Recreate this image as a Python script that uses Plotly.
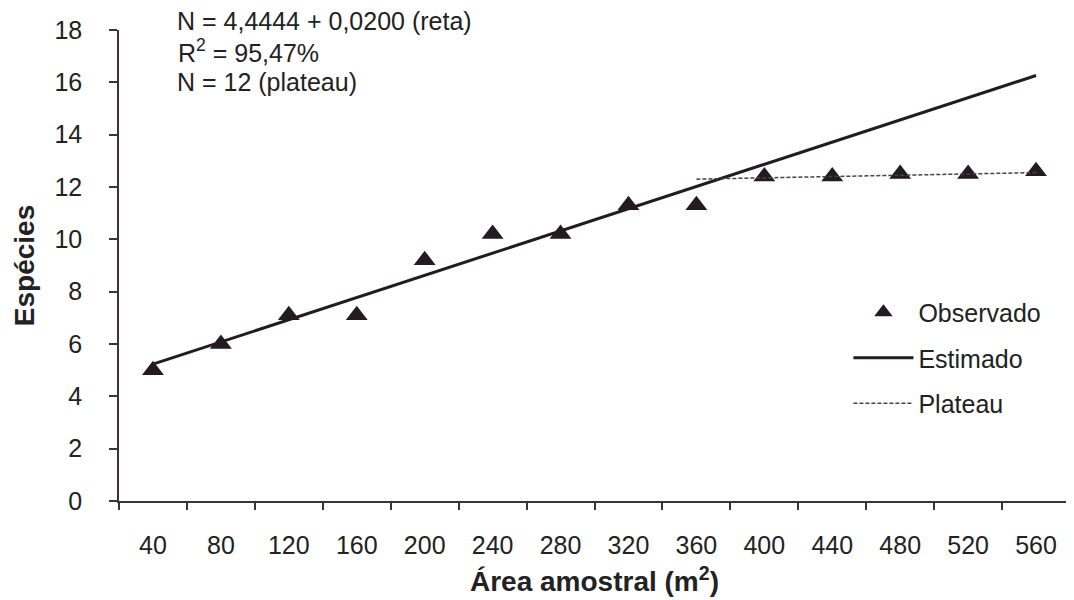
import plotly.graph_objects as go

# ---- data ----
areas = ["40", "80", "120", "160", "200", "240", "280", "320", "360",
         "400", "440", "480", "520", "560"]
observed = [5.0, 6.0, 7.1, 7.1, 9.2, 10.2, 10.2, 11.3, 11.3,
            12.4, 12.4, 12.5, 12.5, 12.6]
estimated_x = ["40", "560"]
estimated_y = [5.23, 16.26]
plateau_x = ["360", "560"]
plateau_y = [12.3, 12.55]

y_ticks = [0, 2, 4, 6, 8, 10, 12, 14, 16, 18]

FONT = "Liberation Sans, Arial, sans-serif"
INK = "#231a22"
AXIS = "#3a3438"

fig = go.Figure()
fig.add_trace(go.Scatter(
    x=areas, y=observed, mode="markers", name="Observado",
    legendgroup="a",
    marker=dict(symbol="triangle-up", size=19, color=INK),
))
fig.add_trace(go.Scatter(
    x=estimated_x, y=estimated_y, mode="lines", name="Estimado",
    legendgroup="b",
    line=dict(color=INK, width=3),
))
fig.add_trace(go.Scatter(
    x=plateau_x, y=plateau_y, mode="lines", name="Plateau",
    legendgroup="c",
    line=dict(color="#4a4048", width=1.5, dash="4px,2px"),
))

# the page body adds an 8px offset, so the figure is 8px smaller
fig.update_layout(
    width=1066, height=592,
    margin=dict(l=111, r=4, t=22, b=99),
    paper_bgcolor="white", plot_bgcolor="white",
    font=dict(family=FONT, size=25, color="#222"),
    showlegend=True,
    legend=dict(
        x=0.767, y=0.449, xanchor="left", yanchor="top",
        bgcolor="rgba(0,0,0,0)", itemwidth=60, tracegroupgap=10,
        font=dict(size=25, color="#222"),
    ),
    xaxis=dict(
        type="category", categoryorder="array", categoryarray=areas,
        range=[-0.5, 13.5], tickson="boundaries", ticks="outside",
        ticklen=7, tickwidth=1.5, tickcolor=AXIS,
        showline=True, linecolor=AXIS, linewidth=1.5,
        showgrid=False, zeroline=False, automargin=False,
        ticklabelstandoff=21,
        tickfont=dict(size=25, color="#222"),
        title=dict(text="<b>Área amostral (m<sup>2</sup>)</b>",
                   font=dict(size=28, color="#222"), standoff=14),
    ),
    yaxis=dict(
        range=[0, 18], tickvals=y_ticks, ticks="outside",
        ticklen=8, tickwidth=1.5, tickcolor=AXIS,
        showline=True, linecolor=AXIS, linewidth=1.5,
        showgrid=False, zeroline=False, automargin=False,
        ticklabelstandoff=22,
        tickfont=dict(size=25, color="#222"),
        title=dict(text="<b>Espécies</b>",
                   font=dict(size=28, color="#222"), standoff=12),
    ),
)

fig.add_annotation(xref="paper", yref="paper", x=0.059, y=1.019,
                   xanchor="left", yanchor="middle", showarrow=False,
                   text="N = 4,4444 + 0,0200 (reta)", font=dict(size=25))
fig.add_annotation(xref="paper", yref="paper", x=0.060, y=0.956,
                   xanchor="left", yanchor="middle", showarrow=False,
                   text="R<sup>2</sup> = 95,47%", font=dict(size=25))
fig.add_annotation(xref="paper", yref="paper", x=0.059, y=0.890,
                   xanchor="left", yanchor="middle", showarrow=False,
                   text="N = 12 (plateau)", font=dict(size=25))

fig.write_html("out.html")
